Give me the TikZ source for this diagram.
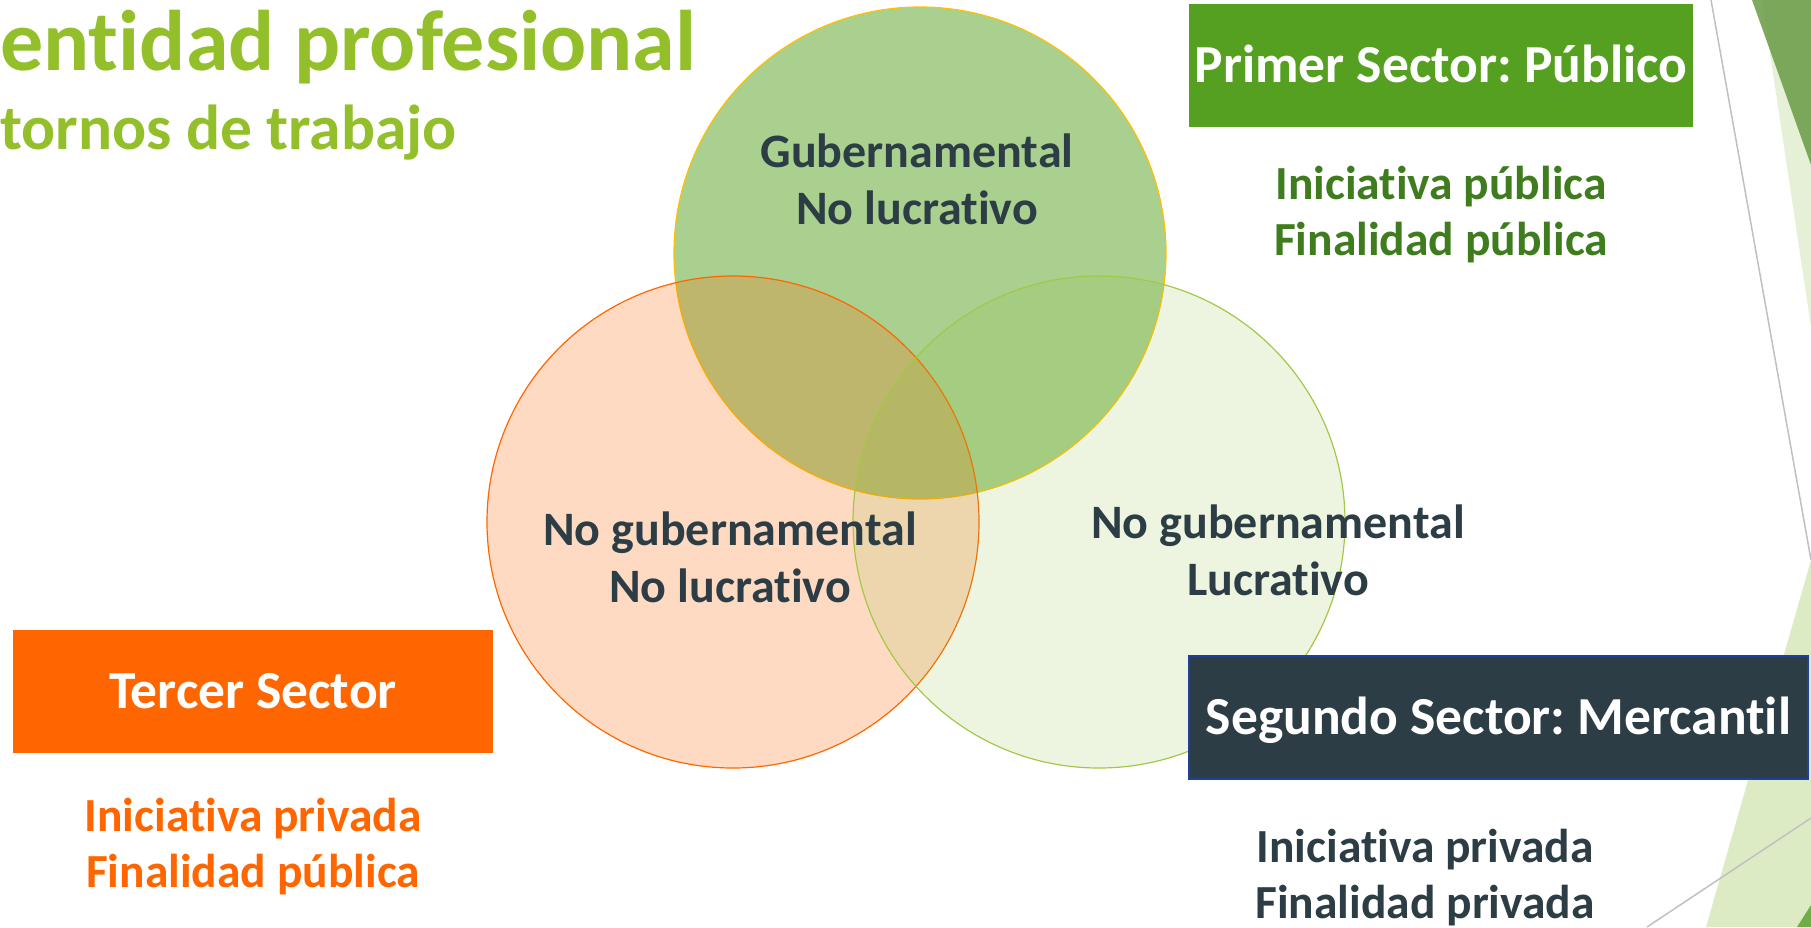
\documentclass[tikz,border=0pt]{standalone}
\usepackage{fontspec}
\setmainfont{Carlito}[Ligatures=NoCommon]
\frenchspacing
\definecolor{titlegreen}{HTML}{93C02A}
\definecolor{pubbox}{HTML}{55A021}
\definecolor{pubnote}{HTML}{3F7C1E}
\definecolor{pubfill}{HTML}{A9D08E}
\definecolor{pubedge}{HTML}{FFC000}
\definecolor{tercer}{HTML}{FF6600}
\definecolor{mercfill}{HTML}{92C13E}
\definecolor{mercedge}{HTML}{A3C846}
\definecolor{slate}{HTML}{2C3D45}
\definecolor{segedge}{HTML}{1F3FA0}
\definecolor{bgpale}{HTML}{E6F0D6}
\definecolor{bgdark}{HTML}{70A04E}
\definecolor{bglight}{HTML}{DDEBC5}
\definecolor{bgcorner}{HTML}{70AD47}
\definecolor{bgline}{HTML}{C0C0C0}
\tikzset{
  venn/.style={circle, minimum size=492pt, inner sep=0pt, line width=1.2pt},
  vennlabel/.style={align=center, anchor=base, text=slate,
    font=\bfseries\fontsize{48}{57}\selectfont},
  sectorbox/.style={minimum height=123pt, inner sep=0pt, text height=34pt,
    text depth=0pt, text=white, font=\bfseries\fontsize{53.5}{64}\selectfont},
  sectornote/.style={align=center, anchor=base,
    font=\bfseries\fontsize{47.5}{56}\selectfont}
}
\begin{document}
\begin{tikzpicture}[x=1pt, y=-1pt]
    \useasboundingbox (0,0) rectangle (1811,927);
    \fill[bgpale] (1762,0) -- (1811,0) -- (1811,327) -- cycle;
    \fill[bgdark, opacity=.9] (1752,0) -- (1811,0) -- (1811,165) -- cycle;
    \draw[bgline, line width=1.5pt] (1711,0) -- (1811,560);
    \fill[bglight] (1811,560) -- (1706,927) -- (1811,927) -- cycle;
    \draw[bgline, line width=1.5pt] (1647,927) -- (1811,818);
    \fill[bgcorner] (1797,927) -- (1811,927) -- (1811,905) -- cycle;

    \node[venn, fill=pubfill, draw=pubedge] (gob) at (920,253) {};
    \node[venn, fill=tercer, fill opacity=.24, draw=tercer] (tercercirc) at (733,522) {};
    \node[venn, fill=mercfill, fill opacity=.16, draw=mercedge] (merccirc) at (1099,522) {};

    \node[vennlabel] (gobtxt) at (917,224) {Gubernamental\\No lucrativo};
    \node[vennlabel] (tercertxt) at (730,602) {No gubernamental\\No lucrativo};
    \node[vennlabel] (merctxt) at (1278,595) {No gubernamental\\Lucrativo};

    \node[anchor=base west, inner sep=0pt, text=titlegreen,
          font=\bfseries\fontsize{86}{100}\selectfont] (titulo) at (0,70) {entidad profesional};
    \node[anchor=base west, inner sep=0pt, text=titlegreen,
          font=\bfseries\fontsize{63.5}{74}\selectfont] (subtitulo) at (0,149) {tornos de trabajo};

    \node[sectorbox, minimum width=504pt, fill=pubbox] (primer) at (1441,65.5) {Primer Sector: Público};
    \node[sectorbox, minimum width=480pt, fill=tercer] (tercer) at (253,691.5) {Tercer Sector};
    \node[sectorbox, minimum width=619pt, fill=slate, draw=segedge, line width=1.5pt] (segundo) at (1498.5,717.5) {Segundo Sector: Mercantil};

    \node[sectornote, text=pubnote] (primernota) at (1441,255) {Iniciativa pública\\Finalidad pública};
    \node[sectornote, text=tercer] (tercernota) at (253,887) {Iniciativa privada\\Finalidad pública};
    \node[sectornote, text=slate] (segundonota) at (1425,918) {Iniciativa privada\\Finalidad privada};
  \end{tikzpicture}
\end{document}
